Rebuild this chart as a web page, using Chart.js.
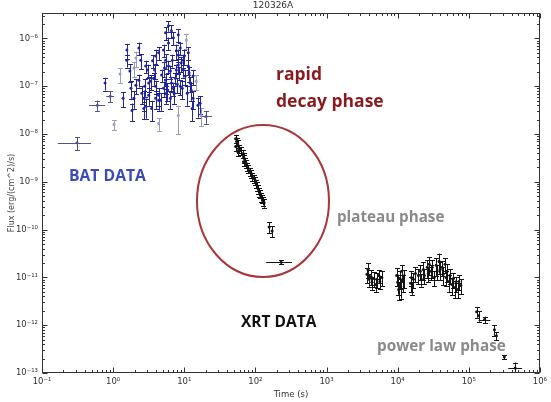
<!DOCTYPE html>
<html>
<head>
<meta charset="utf-8">
<script src="https://cdn.jsdelivr.net/npm/chart.js@4/dist/chart.umd.min.js"></script>
<style>
html,body{margin:0;padding:0;background:#fff;}
canvas{display:block;}
</style>
</head>
<body>
<canvas id="c" width="551" height="402"></canvas>
<script>
// ---------- DATA ----------
const chartTitle = '120326A';
const xTitle = 'Time (s)';
const yTitle = 'Flux (erg/(cm^2)/s)';

const xTickValues = [1e-1, 1e0, 1e1, 1e2, 1e3, 1e4, 1e5, 1e6];
const xTickLabels = ['10⁻¹', '10⁰', '10¹', '10²', '10³', '10⁴', '10⁵', '10⁶'];
const yTickValues = [1e-13, 1e-12, 1e-11, 1e-10, 1e-9, 1e-8, 1e-7, 1e-6];
const yTickLabels = ['10⁻¹³', '10⁻¹²', '10⁻¹¹', '10⁻¹⁰', '10⁻⁹', '10⁻⁸', '10⁻⁷', '10⁻⁶'];
const xMin = 0.1, xMax = 1e6;
const yMin = 1e-13, yMax = 3.4e-6;

// BAT data (main)
const batT = [0.77, 1.56, 1.56, 1.72, 2.30, 2.45, 2.87, 3.06, 1.78, 2.09, 2.30, 2.53, 2.70, 1.84, 1.38, 2.70, 3.48, 3.96, 3.37, 4.36, 4.64, 3.59, 3.96, 4.36, 5.11, 5.45, 6.0, 5.45, 6.0, 6.6, 7.03, 8.25, 7.74, 8.8, 8.25, 9.68, 4.80, 5.45, 6.39, 6.6, 7.5, 5.62, 6.39, 8.25, 11.4, 9.08, 7.74, 10.3, 12.1, 12.5, 13.3, 15.6, 16.7, 5.45, 4.36, 2.87, 7.03, 8.8, 9.68, 6.0, 5.11, 3.96, 3.16, 3.7, 11.4, 13.3,
  5.27, 5.81, 6.81, 7.26, 8.0, 8.53, 9.38, 10.0, 11.0, 11.7, 12.9, 3.83, 3.16, 2.78, 1.96];
const batF = [1.16e-7, 5.7e-7, 3.5e-7, 2.07e-7, 6.3e-7, 3.5e-7, 2.64e-7, 2.17e-7, 9.1e-8, 1.05e-7, 1.34e-7, 7.1e-8, 5.6e-8, 3.1e-8, 5.6e-8, 3.4e-8, 3.4e-8, 1.0e-7, 1.27e-7, 6.5e-8, 5.1e-8, 3.4e-7, 4.3e-7, 5.0e-7, 5.7e-7, 3.5e-7, 8.0e-7, 1.31e-6, 1.83e-6, 1.44e-6, 1.03e-6, 1.19e-6, 5.5e-7, 6.3e-7, 2.77e-7, 3.5e-7, 1.71e-7, 1.34e-7, 2.07e-7, 1.16e-7, 1.47e-7, 7.1e-8, 5.6e-8, 4.5e-7, 5.0e-7, 3.05e-7, 2.17e-7, 1.63e-7, 1.16e-7, 8.2e-8, 5.6e-8, 4.0e-8, 4.4e-8, 1.05e-7, 5.1e-8, 3.8e-8, 9.1e-8, 1.0e-7, 2.17e-7, 2.64e-7, 9.1e-8, 5.6e-8, 6.5e-8, 1.47e-7, 2.64e-7, 1.63e-7,
  2.4e-7, 8.2e-8, 3.5e-7, 7.1e-8, 1.1e-7, 1.9e-7, 9.1e-8, 4.3e-7, 7.1e-8, 1.9e-7, 3.4e-8, 2.17e-7, 1.16e-7, 1.0e-7, 5.6e-8];
const batRelErr = [0.3,0.35,0.3,0.4,0.3,0.35,0.3,0.3,0.4,0.35, 0.3,0.4,0.45,0.4,0.35,0.4,0.45,0.3,0.35,0.4, 0.4,0.3,0.35,0.3,0.3,0.35,0.3,0.3,0.25,0.3, 0.3,0.3,0.35,0.3,0.35,0.3,0.3,0.35,0.3,0.35, 0.3,0.4,0.4,0.3,0.3,0.35,0.3,0.35,0.35,0.4, 0.4,0.45,0.4,0.35,0.4,0.45,0.3,0.35,0.3,0.3, 0.35,0.4,0.4,0.3,0.35,0.35,
  0.35,0.4,0.3,0.4,0.35,0.3,0.4,0.35,0.45,0.35,0.45,0.35,0.35,0.4,0.4];

// BAT wide-bin points (with time error bars)
const batBinT = [0.31, 0.60, 0.91, 20.2];
const batBinTLo = [0.167, 0.46, 0.80, 16.7];
const batBinTHi = [0.49, 0.77, 1.03, 24.5];
const batBinF = [6.6e-9, 4.0e-8, 6.2e-8, 2.33e-8];
const batBinRelErr = [0.3, 0.25, 0.25, 0.3];

// BAT faint points
const batFaintT = [1.03, 1.25, 1.96, 2.09, 10.7, 14.7, 17.2, 8.25, 4.36];
const batFaintF = [1.58e-8, 1.79e-7, 2.4e-7, 3.9e-7, 9.3e-7, 1.27e-7, 2.45e-8, 2.45e-8, 1.66e-8];
const batFaintRelErr = [0.25, 0.35, 0.35, 0.35, 0.35, 0.35, 0.4, 0.6, 0.3];

// XRT data
const xrtT = [52.7, 54.5, 56.2, 52.7, 58.0, 56.2, 61.9, 66.0, 68.1, 70.3, 68.1, 72.6, 75.0, 77.4, 80.0, 85.2, 88.0, 90.8, 96.8, 100, 103, 107, 110, 114, 117, 121, 125, 129, 133, 156, 172,
  3707, 3828, 3954, 4217, 4355, 4642, 4943, 5108, 5445, 5623, 5998,
  9683, 10000, 10330, 10670, 11010, 11370, 11730, 12110,
  15170, 15640, 16150, 16680, 17780,
  19580, 20850, 21540, 22960, 23710,
  26100, 26970, 27830, 29650, 30620, 32660,
  34830, 35940, 38310, 39540, 42170, 43550, 46420, 47970, 49430,
  52720, 54450, 58070, 59980, 63970, 65920, 70310, 72610, 77450,
  129000, 137700, 229600, 244900, 316000];
const xrtF = [8.0e-9, 6.95e-9, 6.3e-9, 5.46e-9, 4.95e-9, 4.29e-9, 4.5e-9, 3.88e-9, 3.36e-9, 3.05e-9, 2.64e-9, 2.64e-9, 2.39e-9, 2.07e-9, 1.88e-9, 1.63e-9, 1.47e-9, 1.27e-9, 1.16e-9, 1.05e-9, 9.1e-10, 8.2e-10, 7.1e-10, 6.15e-10, 5.6e-10, 4.83e-10, 4.4e-10, 3.98e-10, 3.6e-10, 1.13e-10, 9.3e-11,
  1.16e-11, 1.47e-11, 9.1e-12, 1.05e-11, 7.9e-12, 9.5e-12, 7.1e-12, 9.1e-12, 1.10e-11, 8.2e-12, 1.0e-11,
  1.10e-11, 7.9e-12, 5.6e-12, 9.5e-12, 6.5e-12, 1.34e-11, 8.2e-12, 1.0e-11,
  7.5e-12, 1.0e-11, 6.15e-12, 9.1e-12, 1.21e-11,
  1.10e-11, 1.34e-11, 9.1e-12, 1.47e-11, 1.10e-11,
  1.63e-11, 1.21e-11, 1.88e-11, 1.34e-11, 1.63e-11, 1.0e-11,
  1.79e-11, 1.34e-11, 2.17e-11, 1.47e-11, 1.63e-11, 1.16e-11, 1.88e-11, 1.0e-11, 1.34e-11,
  8.2e-12, 1.10e-11, 7.1e-12, 9.1e-12, 6.15e-12, 7.5e-12, 5.6e-12, 8.2e-12, 6.8e-12,
  1.92e-12, 1.58e-12, 8.0e-13, 6.0e-13, 2.17e-13];
const xrtRelErr = [0.2,0.2,0.2,0.2,0.2,0.2,0.2,0.2,0.2,0.2,0.2,0.2,0.2,0.2,0.2,0.2,0.2,0.2,0.2,0.2,0.2,0.2,0.2,0.2,0.2,0.2,0.2,0.2,0.2,0.25,0.25,
  0.35,0.35,0.3,0.35,0.3,0.35,0.3,0.35,0.3,0.3,0.35,
  0.4,0.45,0.4,0.4,0.45,0.35,0.4,0.4,
  0.35,0.35,0.3,0.35,0.35,
  0.35,0.35,0.3,0.4,0.35,
  0.4,0.35,0.4,0.35,0.4,0.35,
  0.4,0.35,0.45,0.4,0.35,0.4,0.35,0.35,0.4,
  0.4,0.35,0.4,0.35,0.4,0.35,0.35,0.35,0.35,
  0.25,0.25,0.25,0.2,0.1];

// XRT wide-bin points
const xrtBinT = [230, 166800, 449600];
const xrtBinTLo = [142, 137700, 359400];
const xrtBinTHi = [327, 202000, 562000];
const xrtBinF = [2.07e-11, 1.31e-12, 1.27e-13];
const xrtBinRelErr = [0.1, 0.15, 0.3];

// ---------- BUILD ----------
function pts(t, f) { return t.map((v, i) => ({ x: v, y: f[i] })); }
function ds(label, t, f, rel, color, tLo, tHi) {
  return {
    label, data: pts(t, f), relErr: rel, tLo: tLo || null, tHi: tHi || null,
    backgroundColor: color, borderColor: color, pointRadius: 1.5, pointBorderWidth: 0,
    showLine: false, errColor: color
  };
}

const errorBarPlugin = {
  id: 'errbars',
  beforeDatasetsDraw(chart) {
    const { ctx, chartArea: ca, scales: { x, y } } = chart;
    ctx.save();
    ctx.beginPath();
    ctx.rect(ca.left, ca.top, ca.right - ca.left, ca.bottom - ca.top);
    ctx.clip();
    ctx.lineWidth = 1;
    chart.data.datasets.forEach(d => {
      ctx.strokeStyle = d.errColor;
      d.data.forEach((p, i) => {
        const e = (d.relErr && d.relErr[i] !== undefined) ? d.relErr[i] : 0.3;
        const px = Math.round(x.getPixelForValue(p.x)) + 0.5;
        const yT = y.getPixelForValue(p.y * (1 + e));
        const yB = y.getPixelForValue(p.y * Math.max(1 - e, 0.05));
        ctx.beginPath();
        ctx.moveTo(px, yT); ctx.lineTo(px, yB);
        ctx.moveTo(px - 2.5, Math.round(yT) + 0.5); ctx.lineTo(px + 2.5, Math.round(yT) + 0.5);
        ctx.moveTo(px - 2.5, Math.round(yB) + 0.5); ctx.lineTo(px + 2.5, Math.round(yB) + 0.5);
        if (d.tLo && d.tHi) {
          const py = Math.round(y.getPixelForValue(p.y)) + 0.5;
          ctx.moveTo(x.getPixelForValue(d.tLo[i]), py);
          ctx.lineTo(x.getPixelForValue(d.tHi[i]), py);
        }
        ctx.stroke();
      });
    });
    ctx.restore();
  }
};

const framePlugin = {
  id: 'frame',
  afterDraw(chart) {
    const { ctx, chartArea: ca, scales: { x, y } } = chart;
    ctx.save();
    ctx.strokeStyle = '#333';
    ctx.lineWidth = 1;
    const L = Math.round(ca.left) + 0.5, R = Math.round(ca.right) - 0.5;
    const T = Math.round(ca.top) + 0.5, B = Math.round(ca.bottom) - 0.5;
    ctx.strokeRect(L, T, R - L, B - T);
    ctx.beginPath();
    xTickValues.forEach(v => {
      for (let m = 1; m <= 9; m++) {
        const val = v * m;
        if (val > xMax * 1.0001) break;
        const len = m === 1 ? 5 : 2.5;
        const px = Math.round(x.getPixelForValue(val)) + 0.5;
        ctx.moveTo(px, B); ctx.lineTo(px, B - len);
        ctx.moveTo(px, T); ctx.lineTo(px, T + len);
      }
    });
    yTickValues.forEach(v => {
      for (let m = 1; m <= 9; m++) {
        const val = v * m;
        if (val > yMax) break;
        const len = m === 1 ? 5 : 2.5;
        const py = Math.round(y.getPixelForValue(val)) + 0.5;
        ctx.moveTo(L, py); ctx.lineTo(L + len, py);
        ctx.moveTo(R, py); ctx.lineTo(R - len, py);
      }
    });
    ctx.stroke();

    // annotation ellipse
    ctx.strokeStyle = '#a8363a';
    ctx.lineWidth = 2;
    ctx.beginPath();
    ctx.ellipse(263, 201, 66, 76, 0, 0, Math.PI * 2);
    ctx.stroke();

    // annotation texts
    const txt = (s, xx, yy, col, size) => {
      ctx.fillStyle = col;
      ctx.font = 'bold ' + size + 'px "Open Sans", sans-serif';
      ctx.textAlign = 'left';
      ctx.textBaseline = 'middle';
      ctx.fillText(s, xx, yy);
    };
    txt('rapid', 276, 75, '#8b1a1f', 17.5);
    txt('decay phase', 276, 102, '#8b1a1f', 17.5);
    txt('BAT DATA', 69, 177, '#3b4bb8', 15.7);
    txt('plateau phase', 337, 218, '#8a8a8a', 15.2);
    txt('XRT DATA', 241, 323, '#111', 15.5);
    txt('power law phase', 377, 347, '#8a8a8a', 15.3);
    ctx.restore();
  }
};

new Chart(document.getElementById('c'), {
  type: 'scatter',
  data: {
    datasets: [
      ds('BAT faint', batFaintT, batFaintF, batFaintRelErr, '#9a9cc0'),
      ds('BAT', batT, batF, batRelErr, '#23259a'),
      ds('BAT binned', batBinT, batBinF, batBinRelErr, '#50548c', batBinTLo, batBinTHi),
      ds('XRT', xrtT, xrtF, xrtRelErr, '#151515'),
      ds('XRT binned', xrtBinT, xrtBinF, xrtBinRelErr, '#151515', xrtBinTLo, xrtBinTHi)
    ]
  },
  options: {
    responsive: false,
    devicePixelRatio: 1,
    animation: false,
    layout: { padding: { top: 0, right: 5, left: 0, bottom: 0 } },
    plugins: {
      legend: { display: false },
      tooltip: { enabled: false },
      title: {
        display: true, text: chartTitle, color: '#333',
        font: { family: 'DejaVu Sans', size: 9, weight: 'normal', lineHeight: 1.2 },
        padding: { top: 0, bottom: 2.2 }
      }
    },
    scales: {
      x: {
        type: 'logarithmic', min: xMin, max: xMax, position: 'bottom',
        grid: { display: false, drawTicks: false },
        border: { display: false },
        afterBuildTicks: s => { s.ticks = xTickValues.map(v => ({ value: v })); },
        afterFit: s => { s.height = 29; },
        ticks: {
          autoSkip: false, maxRotation: 0, padding: 4, color: '#333',
          font: { family: 'DejaVu Sans', size: 8.5 },
          callback: (v, i) => xTickLabels[i]
        },
        title: {
          display: true, text: xTitle, color: '#333',
          font: { family: 'DejaVu Sans', size: 8.5, lineHeight: 1.2 },
          padding: { top: 0, bottom: 2 }
        }
      },
      y: {
        type: 'logarithmic', min: yMin, max: yMax, position: 'left',
        grid: { display: false, drawTicks: false },
        border: { display: false },
        afterBuildTicks: s => { s.ticks = yTickValues.map(v => ({ value: v })); },
        afterFit: s => { s.width = 42; },
        ticks: {
          autoSkip: false, padding: 4, color: '#333',
          font: { family: 'DejaVu Sans', size: 8.5 },
          callback: (v, i) => yTickLabels[i]
        },
        title: {
          display: true, text: yTitle, color: '#444',
          font: { family: 'DejaVu Sans', size: 8, lineHeight: 1.2 },
          padding: { top: 7, bottom: 0 }
        }
      }
    }
  },
  plugins: [errorBarPlugin, framePlugin]
});
</script>
</body>
</html>
